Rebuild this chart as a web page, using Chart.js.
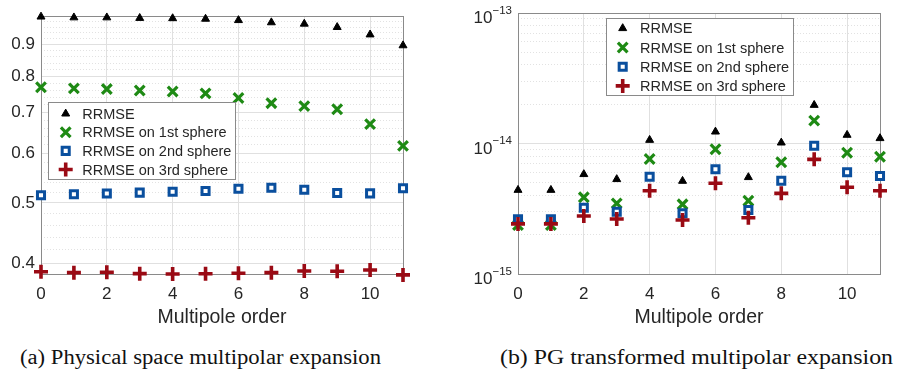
<!DOCTYPE html>
<html>
<head>
<meta charset="utf-8">
<script src="https://cdn.jsdelivr.net/npm/chart.js@4.4.1/dist/chart.umd.min.js"></script>
<style>
  html, body { margin: 0; padding: 0; background: #fff; }
  #wrap { position: relative; width: 898px; height: 382px; overflow: hidden; }
  canvas { position: absolute; top: 0; }
  #cA { left: 0; }
  #cB { left: 449px; }
  .cap {
    position: absolute; top: 345px; line-height: 24px;
    font-family: "Liberation Serif", "DejaVu Serif", serif; font-size: 20px;
    color: #111; white-space: nowrap; transform-origin: 0 0;
  }
</style>
</head>
<body>
<div id="wrap">
  <canvas id="cA" width="449" height="330"></canvas>
  <canvas id="cB" width="449" height="330"></canvas>
  <div class="cap" data-l="20" data-r="381">(a) Physical space multipolar expansion</div>
  <div class="cap" data-l="500" data-r="893">(b) PG transformed multipolar expansion</div>
</div>
<script>
// ---- data ----
const orders = [0, 1, 2, 3, 4, 5, 6, 7, 8, 9, 10, 11];
const xTicks = [0, 2, 4, 6, 8, 10];
const seriesNames = ['RRMSE', 'RRMSE on 1st sphere', 'RRMSE on 2nd sphere', 'RRMSE on 3rd sphere'];

// (a) physical space expansion
const physRRMSE = [0.998, 0.995, 0.995, 0.993, 0.992, 0.990, 0.985, 0.977, 0.972, 0.960, 0.934, 0.897];
const physS1 = [0.768, 0.765, 0.763, 0.759, 0.756, 0.751, 0.738, 0.724, 0.716, 0.708, 0.670, 0.618];
const physS2 = [0.5145, 0.5164, 0.5176, 0.5195, 0.5212, 0.5226, 0.527, 0.529, 0.525, 0.5188, 0.518, 0.528];
const physS3 = [0.3873, 0.3859, 0.3865, 0.3845, 0.384, 0.3843, 0.3851, 0.3859, 0.3883, 0.388, 0.3897, 0.3827];
const physYTicks = [0.4, 0.5, 0.6, 0.7, 0.8, 0.9];

// (b) PG transformed expansion
const pgRRMSE = [4.40e-15, 4.40e-15, 5.81e-15, 5.32e-15, 1.063e-14, 5.16e-15, 1.231e-14, 5.51e-15, 1.014e-14, 1.97e-14, 1.162e-14, 1.096e-14];
const pgS1 = [2.37e-15, 2.37e-15, 3.87e-15, 3.48e-15, 7.61e-15, 3.42e-15, 9.03e-15, 3.64e-15, 7.18e-15, 1.496e-14, 8.50e-15, 7.92e-15];
const pgS2 = [2.63e-15, 2.63e-15, 3.22e-15, 3.00e-15, 5.57e-15, 2.92e-15, 6.34e-15, 3.09e-15, 5.19e-15, 9.62e-15, 6.02e-15, 5.64e-15];
const pgS3 = [2.42e-15, 2.42e-15, 2.78e-15, 2.64e-15, 4.35e-15, 2.59e-15, 4.96e-15, 2.70e-15, 4.15e-15, 7.56e-15, 4.62e-15, 4.35e-15];
const pgYTicks = [1e-15, 1e-14, 1e-13];

// ---- styles ----
const FONT = '"Liberation Sans", Arial, Helvetica, sans-serif';
const textColor = '#262626';
const frameColor = '#8a8a8a';
const gridMajor = '#e0e0e0';
const gridMinor = '#e2e2e2';

const markers = [
  { pointStyle: 'triangle', radius: 4.6, stroke: '#000', fill: '#000', width: 1 },
  { pointStyle: 'crossRot', radius: 6.8, stroke: '#1e8a14', fill: '#1e8a14', width: 3.2 },
  { pointStyle: 'rect', radius: 5, stroke: '#0a4f9e', fill: '#fff', width: 3 },
  { pointStyle: 'cross', radius: 7, stroke: '#9a0a14', fill: '#9a0a14', width: 3.6 }
];

function makeDatasets(series) {
  return series.map((vals, k) => {
    const m = markers[k];
    return {
      label: seriesNames[k],
      data: vals.map((v, i) => ({ x: orders[i], y: v })),
      showLine: false,
      pointStyle: m.pointStyle,
      pointRadius: m.radius,
      pointHoverRadius: m.radius,
      borderColor: m.stroke,
      backgroundColor: m.fill,
      pointBorderWidth: m.width,
      pointHoverBorderWidth: m.width,
      clip: false,
      order: 3 - k
    };
  });
}

function xAxis() {
  return {
    type: 'linear', min: 0, max: 11,
    afterBuildTicks: s => { s.ticks = xTicks.map(v => ({ value: v })); },
    afterFit: s => { s.height = 55; },
    grid: { color: gridMajor, drawTicks: false },
    border: { display: false },
    ticks: { font: { family: FONT, size: 17 }, color: textColor, padding: 10, maxRotation: 0, autoSkip: false },
    title: { display: true, text: 'Multipole order', font: { family: FONT, size: 19.5 }, color: textColor, padding: 0 }
  };
}

function isMajor(v, major) {
  return major.some(m => Math.abs(m - v) / m < 1e-6);
}

function yAxis(min, max, gridVals, major, width, labels) {
  return {
    type: 'logarithmic', min: min, max: max,
    afterBuildTicks: s => {
      s.ticks = gridVals.filter(v => v >= min * 0.9999 && v <= max * 1.0001)
        .map(v => ({ value: v, major: isMajor(v, major) }));
    },
    afterFit: s => { s.width = width; },
    grid: {
      drawTicks: false,
      color: c => (c.tick && c.tick.major) ? gridMajor : gridMinor
    },
    border: {
      display: false,
      dash: c => (c.tick && !c.tick.major) ? [1, 2] : []
    },
    ticks: {
      display: labels,
      autoSkip: false,
      font: { family: FONT, size: 17 },
      color: textColor,
      padding: 6,
      callback: (v, i, ticks) => ticks[i].major ? Number(v).toFixed(1) : ''
    }
  };
}

// minor grid values: 0.40 .. 1.00 every 0.02
const physGrid = [];
for (let k = 20; k <= 50; k++) physGrid.push(k / 50);
// minor grid values: 1..9 x 10^-15, 10^-14 and the top decade
const pgGrid = [];
for (let d = -15; d <= -14; d++) for (let m = 1; m <= 9; m++) pgGrid.push(m * Math.pow(10, d));
pgGrid.push(1e-13);

// box around the plotting area
const frame = {
  id: 'frame',
  beforeDatasetsDraw(chart) {
    const a = chart.chartArea, ctx = chart.ctx;
    ctx.save();
    ctx.strokeStyle = frameColor;
    ctx.lineWidth = 1;
    ctx.strokeRect(Math.round(a.left) + 0.5, Math.round(a.top) + 0.5,
      Math.round(a.right - a.left), Math.round(a.bottom - a.top));
    ctx.restore();
  }
};

// legend drawn inside the axes
const boxLegend = {
  id: 'boxLegend',
  afterDatasetsDraw(chart, args, o) {
    const ctx = chart.ctx;
    ctx.save();
    ctx.fillStyle = '#fff';
    ctx.fillRect(o.x, o.y, o.w, o.h);
    ctx.strokeStyle = frameColor;
    ctx.lineWidth = 1;
    ctx.strokeRect(o.x + 0.5, o.y + 0.5, o.w, o.h);
    chart.data.datasets.forEach((ds, i) => {
      const cy = o.y + o.first + i * o.step;
      ctx.save();
      ctx.strokeStyle = ds.borderColor;
      ctx.fillStyle = ds.backgroundColor;
      ctx.lineWidth = ds.pointBorderWidth;
      Chart.helpers.drawPoint(ctx, {
        pointStyle: ds.pointStyle, radius: ds.pointRadius, rotation: 0, borderWidth: ds.pointBorderWidth
      }, o.x + o.mx, cy);
      ctx.restore();
      ctx.font = '14.5px ' + FONT;
      ctx.fillStyle = textColor;
      ctx.textBaseline = 'middle';
      ctx.textAlign = 'left';
      ctx.fillText(ds.label, o.x + o.tx, cy + 1);
    });
    ctx.restore();
  }
};

// 10^n labels for the log axis
const powerLabels = {
  id: 'powerLabels',
  afterDraw(chart, args, o) {
    if (!o.values) return;
    const y = chart.scales.y, ctx = chart.ctx;
    ctx.save();
    ctx.fillStyle = textColor;
    ctx.textAlign = 'left';
    ctx.textBaseline = 'alphabetic';
    o.values.forEach(v => {
      const py = y.getPixelForValue(v);
      const exp = '\u2212' + Math.abs(Math.round(Math.log10(v)));
      ctx.font = '11.5px ' + FONT;
      const we = ctx.measureText(exp).width;
      ctx.font = '17px ' + FONT;
      const wb = ctx.measureText('10').width;
      const right = y.right - 6;
      ctx.fillText('10', right - we - wb, py + 10);
      ctx.font = '11.5px ' + FONT;
      ctx.fillText(exp, right - we, py + 0.5);
    });
    ctx.restore();
  }
};

function makeChart(id, series, yCfg, pad, legendBox, powers) {
  return new Chart(document.getElementById(id), {
    type: 'scatter',
    data: { datasets: makeDatasets(series) },
    options: {
      responsive: false,
      animation: false,
      events: [],
      layout: { padding: pad },
      scales: { x: xAxis(), y: yCfg },
      plugins: {
        legend: { display: false },
        tooltip: { enabled: false },
        boxLegend: legendBox,
        powerLabels: { values: powers }
      }
    },
    plugins: [frame, boxLegend, powerLabels]
  });
}

makeChart('cA', [physRRMSE, physS1, physS2, physS3],
  yAxis(0.384, 1.0, physGrid, physYTicks, 41, true),
  { top: 13, right: 46, bottom: 1, left: 0 },
  { x: 48, y: 102, w: 187, h: 77, first: 11.7, step: 18.6, mx: 17.7, tx: 34.3 },
  null);

makeChart('cB', [pgRRMSE, pgS1, pgS2, pgS3],
  yAxis(1e-15, 1e-13, pgGrid, pgYTicks, 69, false),
  { top: 13, right: 18, bottom: 1, left: 0 },
  { x: 157, y: 18, w: 187, h: 77, first: 10.3, step: 19.2, mx: 16.7, tx: 34 },
  pgYTicks);

// stretch the captions to their column widths
document.querySelectorAll('.cap').forEach(el => {
  const l = +el.dataset.l, r = +el.dataset.r;
  const w = el.getBoundingClientRect().width;
  el.style.left = l + 'px';
  el.style.transform = 'scaleX(' + ((r - l) / w) + ')';
});
</script>
</body>
</html>
